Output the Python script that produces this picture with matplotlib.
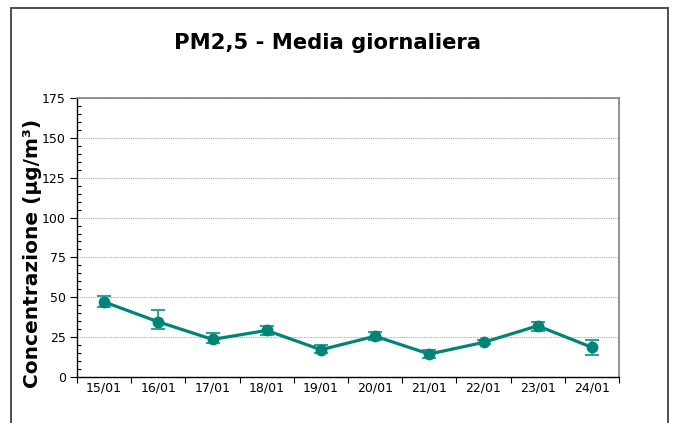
import matplotlib
matplotlib.use("Agg")
import matplotlib.pyplot as plt
from matplotlib.patches import Rectangle
from matplotlib.ticker import MultipleLocator
import numpy as np

categories = ["15/01", "16/01", "17/01", "18/01", "19/01", "20/01", "21/01", "22/01", "23/01", "24/01"]
values = [47.1, 34.6, 23.6, 29.2, 17.1, 25.6, 14.4, 21.7, 32.1, 18.6]
err_upper = [50.8, 42.3, 27.9, 31.9, 19.8, 28.3, 16.7, 22.9, 34.2, 23.1]
err_lower = [43.9, 30.2, 21.4, 26.4, 15.0, 23.1, 11.7, 20.4, 28.9, 13.9]
yticks = [0, 25, 50, 75, 100, 125, 150, 175]

plt.rcParams['font.family'] = ['DejaVu Sans']

fig = plt.figure(figsize=(6.81, 4.23), dpi=100)
ax = fig.add_axes([77/681, 1-377/423, (619-77)/681, (377-98)/423])

x = np.arange(len(categories))
vals = np.array(values)
yerr = np.array([vals - np.array(err_lower), np.array(err_upper) - vals])

ax.errorbar(x, vals, yerr=yerr, fmt='none', ecolor='#2aa39b', elinewidth=1.5,
            capsize=5, capthick=1.5, zorder=3)
ax.plot(x, vals, color='#008478', lw=2.3, marker='o', markersize=7.5,
        markerfacecolor='#008478', markeredgecolor='#008478', zorder=4)

ax.set_xlim(-0.5, len(categories) - 0.5)
ax.set_ylim(0, 175)
ax.set_yticks(yticks)
ax.yaxis.set_minor_locator(MultipleLocator(5))
ax.set_xticks(x)
ax.set_xticklabels(categories, fontsize=9)
ax.set_xticks(np.arange(-0.5, len(categories)), minor=True)
ax.tick_params(axis='x', which='major', length=0, pad=3)
ax.tick_params(axis='x', which='minor', length=4, direction='out', width=0.8)
ax.tick_params(axis='y', which='major', length=5, direction='out', width=0.8, labelsize=9, pad=3)
ax.tick_params(axis='y', which='minor', length=3, direction='in', width=0.8)

for yv in yticks[1:]:
    ax.axhline(yv, color='#a8a8a8', lw=0.8, ls=(0, (1, 1)), zorder=1)

for s in ['top', 'right']:
    ax.spines[s].set_color('#808080')
    ax.spines[s].set_linewidth(1.2)
for s in ['left', 'bottom']:
    ax.spines[s].set_color('black')
    ax.spines[s].set_linewidth(1.0)

ax.set_ylabel("Concentrazione (μg/m³)", fontsize=14.5, fontweight='bold')
ax.yaxis.set_label_coords((42-77)/542, (377-253)/279)

fig.text(327/681, 1-43/423, "PM2,5 - Media giornaliera", fontsize=15.2, fontweight='bold',
         ha='center', va='center')

frame = Rectangle((11/681, -0.05), (668-11)/681, 1-8/423+0.05, transform=fig.transFigure,
                  fill=False, edgecolor='#4d4d4d', lw=1.4, clip_on=False)
fig.patches.append(frame)

fig.savefig("out.png", dpi=100)
